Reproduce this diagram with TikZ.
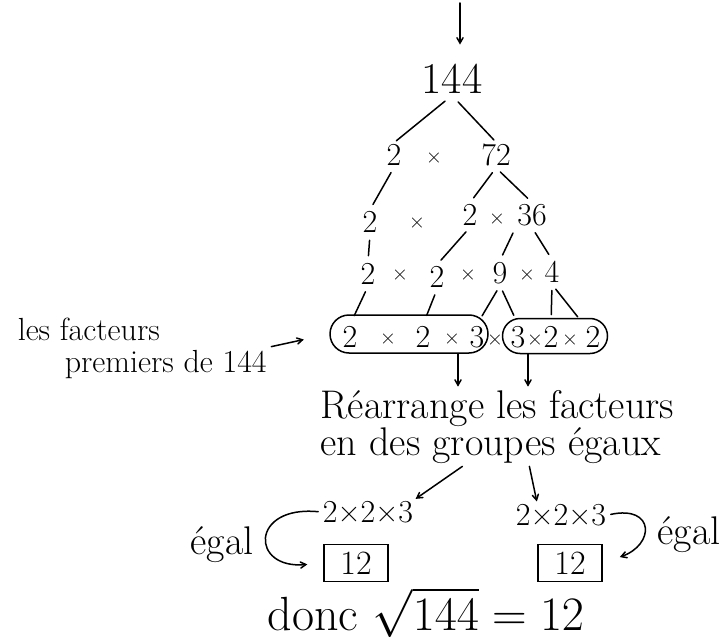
\documentclass[tikz,border=0pt]{standalone}
\usepackage{fix-cm}
\usetikzlibrary{shapes,arrows,positioning}
\tikzstyle{every picture}=[x=1pt, y=-1pt, line width=1.5pt, line cap=round,%
	>=angle 60, shorten >=1pt]
\tikzstyle{num}=[inner sep=1pt, font=\fontsize{32}{32}\selectfont]
\tikzstyle{op}=[inner sep=1pt, font=\fontsize{22}{22}\selectfont]
\tikzstyle{branch}=[shorten <=6pt, shorten >=6pt]
\tikzstyle{grp}=[draw, rounded rectangle, inner sep=0pt]
\tikzstyle{note}=[align=left, inner sep=2pt]
\tikzstyle{numbox}=[draw, minimum width=64pt, minimum height=37pt, inner sep=0pt,%
	font=\fontsize{34}{34}\selectfont]

\begin{document}
\begin{tikzpicture}
\useasboundingbox (0,0) rectangle (722,639);
\coordinate (start) at (460,3);
\node[num, font=\fontsize{44}{44}\selectfont] (n144) at (452,79) {144};
\draw[->, shorten >=18pt] (start) -- (start |- n144.north);

\node[num] (a2) at (394,155) {2};
\node[op] (ax) at (434,158) {×};
\node[num] (a72) at (496,155) {72};

\node[num] (b2) at (370,222) {2};
\node[op] (bx) at (417,223) {×};
\node[num] (b2r) at (470,215) {2};
\node[op] (bx2) at (497,219) {×};
\node[num] (b36) at (532,215) {36};

\node[num] (c2) at (368,274) {2};
\node[op] (cx) at (400,275) {×};
\node[num] (c2r) at (437,277) {2};
\node[op] (cx2) at (468,275) {×};
\node[num] (c9) at (500,273) {9};
\node[op] (cx3) at (527,275) {×};
\node[num] (c4) at (552,272) {4};

\node[num] (d2) at (350,337) {2};
\node[op] (dx) at (388,339) {×};
\node[num] (d2r) at (423,337) {2};
\node[op] (dx2) at (452,339) {×};
\node[num] (d3) at (477,337) {3};
\node[op] (dmid) at (495,340) {×};
\node[num] (d3r) at (518,337) {3};
\node[op] (dx3) at (535,340) {×};
\node[num] (d2c) at (551,337) {2};
\node[op] (dx4) at (570,340) {×};
\node[num] (d2d) at (593,337) {2};
\node[grp, minimum width=158pt, minimum height=38pt] (gA) at (409,334) {};
\node[grp, minimum width=105pt, minimum height=35pt] (gB) at (555,336) {};

\draw[branch, shorten <=9pt, shorten >=3pt] (n144.south) -- (a2.north);
\draw[branch, shorten <=9pt, shorten >=3pt] (n144.south) -- (a72.north);
\draw[branch] (a2.south) -- (b2.north);
\draw[branch] (a72.south) -- (b2r.north);
\draw[branch] (a72.south) -- (b36.north);
\draw[branch] (b2.south) -- (c2.north);
\draw[branch] (b2r.south) -- (c2r.north);
\draw[branch] (b36.south west) -- (c9.north);
\draw[branch] (b36.south) -- (c4.north);
\draw[branch, shorten >=10pt] (c2.south) -- (d2.north);
\draw[branch, shorten >=10pt] (c2r.south) -- (d2r.north);
\draw[branch, shorten >=10pt] (c9.south) -- (d3.north);
\draw[branch, shorten >=10pt] (c9.south) -- (d3r.north);
\draw[branch, shorten >=10pt] (c4.south) -- (d2c.north);
\draw[branch, shorten >=10pt] (c4.south) -- (d2d.north west);

\node[note, anchor=base west, font=\fontsize{32}{32}\selectfont] (lbl1) at (15,340) {les facteurs};
\node[note, anchor=base west, font=\fontsize{32}{32}\selectfont] (lbl2) at (62,372) {premiers de 144};
\draw[->, shorten <=2pt, shorten >=26pt] (lbl2.north east) -- (gA.west);

\node[note, anchor=west, font=\fontsize{40}{32}\selectfont] (rearr) at (318,427)
	{Réarrange les facteurs\\en des groupes égaux};
\draw[->] ([xshift=49pt]gA.south) -- ([xshift=49pt]gA.south |- rearr.north);
\draw[->] ([xshift=-27pt]gB.south) -- ([xshift=-27pt]gB.south |- rearr.north);

\node[num] (l223) at (368,512) {2×2×3};
\node[num] (r223) at (561,515) {2×2×3};
\draw[->] ([xshift=-35pt]rearr.south) -- (l223.north east);
\draw[->] ([xshift=32pt]rearr.south) -- ([xshift=-24pt]r223.north);

\node[numbox, below=19pt of l223, xshift=-12pt] (l12) {12};
\node[numbox, below=16pt of r223, xshift=9pt] (r12) {12};

\node[font=\fontsize{40}{40}\selectfont] (egL) at (222,545) {égal};
\node[font=\fontsize{40}{40}\selectfont] (egR) at (689,535) {égal};
\draw[->, shorten <=3pt, shorten >=16pt] (l223.west) .. controls (250,505) and (250,570) .. (l12.west);
\draw[->, shorten <=3pt, shorten >=18pt] (r223.east) .. controls (655,505) and (655,545) .. (r12.east);

\node[anchor=base, font=\fontsize{48}{48}\selectfont] (donc) at (426,630) {donc $\sqrt{144} = 12$};
\end{tikzpicture}
\end{document}
